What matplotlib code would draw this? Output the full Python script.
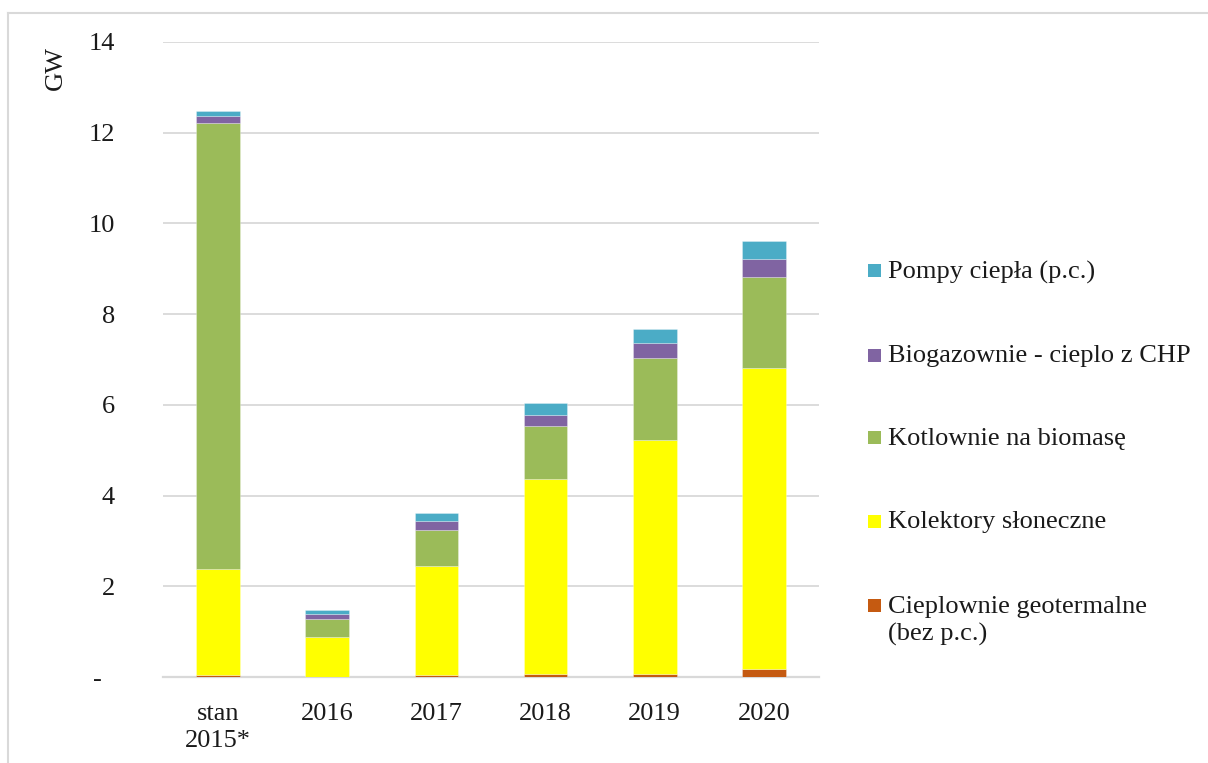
import matplotlib
matplotlib.use("Agg")
import matplotlib.pyplot as plt
import matplotlib.patches as patches
from matplotlib.lines import Line2D
import numpy as np

plt.rcParams['font.family'] = ['Liberation Serif', 'DejaVu Serif']

# Installed heat capacity, GW
categories = ["stan\n2015*", "2016", "2017", "2018", "2019", "2020"]
geotermalne = [0.04, 0.00, 0.04, 0.07, 0.07, 0.18]
kolektory = [2.34, 0.89, 2.41, 4.30, 5.15, 6.63]
biomasa = [9.83, 0.39, 0.78, 1.16, 1.81, 2.01]
biogaz = [0.16, 0.12, 0.20, 0.25, 0.33, 0.39]
pompy = [0.11, 0.08, 0.18, 0.25, 0.31, 0.40]

series_labels = [
    "Cieplownie geotermalne\n(bez p.c.)",
    "Kolektory słoneczne",
    "Kotlownie na biomasę",
    "Biogazownie - cieplo z CHP",
    "Pompy ciepła (p.c.)",
]
series_colors = ["#C55A11", "#FFFF00", "#9BBB59", "#8064A2", "#4BACC6"]
yticks = [0, 2, 4, 6, 8, 10, 12, 14]
ytick_labels = ["-  ", "2", "4", "6", "8", "10", "12", "14"]

FS = 19
W, H = 1208, 763
fig = plt.figure(figsize=(W / 100, H / 100), dpi=100)
ax = fig.add_axes([163.4 / W, 1 - 677 / H, 655.2 / W, 635 / H])

x = np.arange(len(categories))
bottom = np.zeros(len(categories))
for vals, color in zip([geotermalne, kolektory, biomasa, biogaz, pompy], series_colors):
    ax.bar(x, vals, width=0.4, bottom=bottom, color=color,
           edgecolor=(1, 1, 1, 0.5), linewidth=0.4, zorder=3)
    bottom += np.array(vals)

ax.set_xlim(-0.5, len(categories) - 0.5)
ax.set_ylim(0, 14)
ax.set_yticks(yticks)
ax.set_yticklabels(ytick_labels)
ax.set_xticks(x)
ax.set_xticklabels(categories, linespacing=1.3)
ax.tick_params(axis="y", length=0, pad=35, labelsize=FS)
ax.tick_params(axis="x", length=0, pad=18.5, labelsize=FS)
for lab in ax.get_xticklabels() + ax.get_yticklabels():
    lab.set_color("#1a1a1a")

ax.grid(axis="y", color="#D9D9D9", linewidth=1.3, zorder=0)
for side in ["top", "right", "left"]:
    ax.spines[side].set_visible(False)
ax.spines["bottom"].set_color("#D9D9D9")
ax.spines["bottom"].set_linewidth(1.6)
ax.spines["bottom"].set_zorder(2.5)

fig.text(56 / W, 1 - 68 / H, "GW", rotation=90, ha="center", va="center",
         fontsize=FS, color="#1a1a1a")

# legend, top entry first
legend_y = [272, 356, 439, 522, 606]
for y, label, color in zip(legend_y, series_labels[::-1], series_colors[::-1]):
    fig.patches.append(patches.Rectangle(
        (868 / W, 1 - (y + 5.5) / H), 13 / W, 13 / H,
        transform=fig.transFigure, facecolor=color, edgecolor="none"))
    ty = y + 15 if "\n" in label else y
    fig.text(888 / W, 1 - ty / H, label, ha="left", va="center",
             fontsize=FS, color="#1a1a1a", linespacing=1.3)

# chart area border
fig.add_artist(Line2D([8 / W, 1], [1 - 12.5 / H] * 2, transform=fig.transFigure,
                      color="#D9D9D9", linewidth=1.5))
fig.add_artist(Line2D([8 / W] * 2, [0, 1 - 12.5 / H], transform=fig.transFigure,
                      color="#D9D9D9", linewidth=1.5))

fig.savefig("out.png", dpi=100)
